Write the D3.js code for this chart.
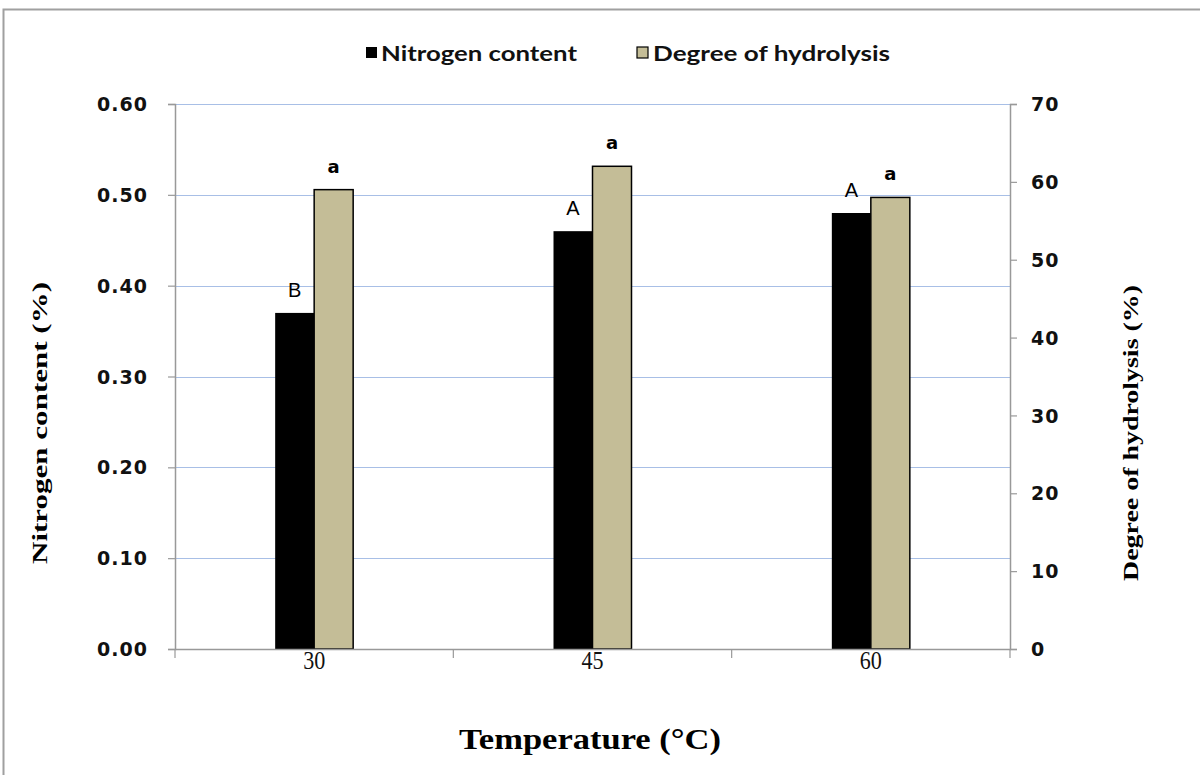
<!DOCTYPE html>
<html>
<head>
<meta charset="utf-8">
<script src="https://cdn.jsdelivr.net/npm/d3@7"></script>
<style>
  body { margin: 0; background: #fff; }
  svg { display: block; }
</style>
</head>
<body>
<svg id="chart" width="1200" height="775"></svg>
<script>
const categories = ["30", "45", "60"];
const nitrogen = [0.37, 0.46, 0.48];
const hydrolysis = [59, 62, 58];
const nitrogenLetters = ["B", "A", "A"];
const hydrolysisLetters = ["a", "a", "a"];
const leftTicks = [0, 0.1, 0.2, 0.3, 0.4, 0.5, 0.6];
const rightTicks = [0, 10, 20, 30, 40, 50, 60, 70];
const seriesNames = ["Nitrogen content", "Degree of hydrolysis"];
const colors = ["#000000", "#c4bd97"];

const svg = d3.select("#chart");
const m = { left: 175, right: 1010, top: 104, bottom: 649 };

// outer frame
svg.append("rect").attr("x", 3.5).attr("y", 9.5).attr("width", 1220).attr("height", 800)
  .attr("fill", "none").attr("stroke", "#a0a0a0").attr("stroke-width", 2);

const x = d3.scaleBand().domain(categories).range([m.left, m.right]);
const yL = d3.scaleLinear().domain([0, 0.6]).range([m.bottom, m.top]);
const yR = d3.scaleLinear().domain([0, 70]).range([m.bottom, m.top]);
const barW = 39;

// gridlines
svg.append("g").selectAll("line").data(leftTicks.filter(d => d > 0)).join("line")
  .attr("x1", m.left).attr("x2", m.right)
  .attr("y1", d => Math.round(yL(d)) + 0.5).attr("y2", d => Math.round(yL(d)) + 0.5)
  .attr("stroke", "#a8bfe6").attr("stroke-width", 1.2);

// bars
const g = svg.append("g");
categories.forEach((c, i) => {
  const cx = x(c) + x.bandwidth() / 2;
  g.append("rect").attr("x", cx - barW).attr("width", barW)
    .attr("y", yL(nitrogen[i])).attr("height", m.bottom - yL(nitrogen[i]))
    .attr("fill", colors[0]);
  g.append("rect").attr("x", cx).attr("width", barW)
    .attr("y", yR(hydrolysis[i])).attr("height", m.bottom - yR(hydrolysis[i]))
    .attr("fill", colors[1]).attr("stroke", "#000").attr("stroke-width", 1.5);
  g.append("text").attr("x", cx - barW / 2).attr("y", yL(nitrogen[i]) - 16)
    .attr("text-anchor", "middle").attr("font-family", "Liberation Sans, Arial, sans-serif")
    .attr("font-size", 20).attr("fill", "#000").text(nitrogenLetters[i]);
  g.append("text").attr("x", cx + barW / 2).attr("y", yR(hydrolysis[i]) - 17)
    .attr("text-anchor", "middle").attr("font-family", "DejaVu Sans, sans-serif")
    .attr("font-weight", "bold")
    .attr("font-size", 18).attr("fill", "#000").text(hydrolysisLetters[i]);
});

// left axis
const axL = svg.append("g").attr("transform", `translate(${m.left},0)`)
  .call(d3.axisLeft(yL).tickValues(leftTicks).tickFormat(d3.format(".2f")).tickSize(7).tickPadding(20));
axL.select(".domain").attr("stroke", "#999").attr("stroke-width", 1.5);
axL.selectAll(".tick line").attr("stroke", "#999").attr("stroke-width", 1.2);
axL.selectAll("text").attr("font-family", "DejaVu Sans, sans-serif").attr("font-weight", "bold")
  .attr("font-size", 19).attr("letter-spacing", 1).attr("fill", "#111").attr("dy", "0.35em");

// right axis
const axR = svg.append("g").attr("transform", `translate(${m.right},0)`)
  .call(d3.axisRight(yR).tickValues(rightTicks).tickFormat(d3.format("d")).tickSize(7).tickPadding(14));
axR.select(".domain").attr("stroke", "#999").attr("stroke-width", 1.5);
axR.selectAll(".tick line").attr("stroke", "#999").attr("stroke-width", 1.2);
axR.selectAll("text").attr("font-family", "DejaVu Sans, sans-serif").attr("font-weight", "bold")
  .attr("font-size", 19).attr("letter-spacing", 1).attr("fill", "#111").attr("dy", "0.35em");

// bottom axis
const axB = svg.append("g").attr("transform", `translate(0,${m.bottom})`)
  .call(d3.axisBottom(x).tickSize(0).tickPadding(2));
axB.select(".domain").attr("stroke", "#999").attr("stroke-width", 1.5);
axB.selectAll("text").attr("font-family", "Liberation Serif, Times New Roman, serif")
  .attr("font-size", 26).attr("fill", "#111").attr("dy", "0.71em")
  .attr("transform", "scale(0.85,1)")
  .attr("x", 0);
// boundary ticks
const bounds = categories.map(c => x(c)).concat([x(categories[categories.length - 1]) + x.bandwidth()]);
axB.selectAll("line.bound").data(bounds).join("line").attr("class", "bound")
  .attr("x1", d => d).attr("x2", d => d).attr("y1", 0).attr("y2", 9)
  .attr("stroke", "#999").attr("stroke-width", 1.2);

// axis titles
svg.append("text").attr("x", 590).attr("y", 749).attr("text-anchor", "middle")
  .attr("font-family", "Liberation Serif, Times New Roman, serif").attr("font-weight", "bold")
  .attr("font-size", 30).attr("textLength", 262).attr("lengthAdjust", "spacingAndGlyphs")
  .attr("fill", "#000").text("Temperature (°C)");
svg.append("text").attr("transform", "translate(47,423) rotate(-90)").attr("text-anchor", "middle")
  .attr("font-family", "Liberation Serif, Times New Roman, serif").attr("font-weight", "bold")
  .attr("font-size", 22).attr("textLength", 282).attr("lengthAdjust", "spacingAndGlyphs")
  .attr("fill", "#000").text("Nitrogen content (%)");
svg.append("text").attr("transform", "translate(1138,433) rotate(-90)").attr("text-anchor", "middle")
  .attr("font-family", "Liberation Serif, Times New Roman, serif").attr("font-weight", "bold")
  .attr("font-size", 22).attr("textLength", 296).attr("lengthAdjust", "spacingAndGlyphs")
  .attr("fill", "#000").text("Degree of hydrolysis (%)");

// legend
const leg = svg.append("g");
const legItems = [{ x: 366, tx: 381, w: 196 }, { x: 637, tx: 653, w: 237 }];
legItems.forEach((it, i) => {
  leg.append("rect").attr("x", it.x).attr("y", 47).attr("width", 11).attr("height", 11)
    .attr("fill", colors[i]).attr("stroke", i === 1 ? "#000" : "none").attr("stroke-width", 1.2);
  leg.append("text").attr("x", it.tx).attr("y", 61)
    .attr("font-family", "Lato, Open Sans, sans-serif").attr("font-weight", "bold")
    .attr("font-size", 21).attr("textLength", it.w).attr("lengthAdjust", "spacingAndGlyphs")
    .attr("fill", "#111").text(seriesNames[i]);
});
</script>
</body>
</html>
